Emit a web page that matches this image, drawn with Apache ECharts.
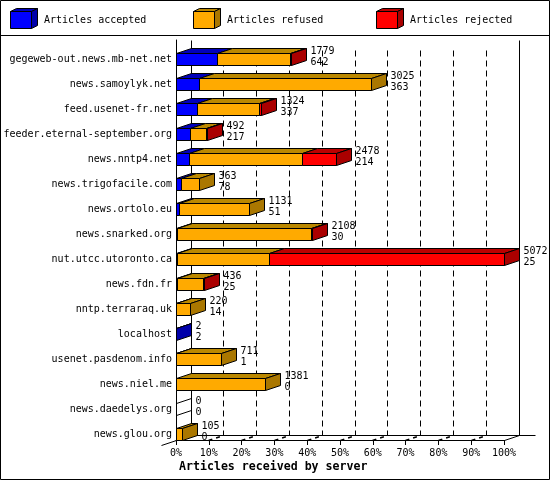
<!DOCTYPE html>
<html><head><meta charset="utf-8">
<style>html,body{margin:0;padding:0;background:#fff}#c{width:550px;height:480px}</style>
<script src="https://cdn.jsdelivr.net/npm/echarts@6/dist/echarts.min.js"></script>
</head><body><div id="c"></div>
<script>
const servers = ["gegeweb-out.news.mb-net.net","news.samoylyk.net","feed.usenet-fr.net","feeder.eternal-september.org","news.nntp4.net","news.trigofacile.com","news.ortolo.eu","news.snarked.org","nut.utcc.utoronto.ca","news.fdn.fr","nntp.terraraq.uk","localhost","usenet.pasdenom.info","news.niel.me","news.daedelys.org","news.glou.org"];
const accepted = [642,363,337,217,214,78,51,30,25,25,14,2,1,0,0,0];
const refused  = [1129,2662,952,260,1746,285,1080,2068,1428,405,206,0,710,1381,0,105];
const rejected = [8,0,35,15,518,0,0,10,3619,6,0,0,0,0,0,0];
const seriesNames = ["Articles accepted","Articles refused","Articles rejected"];
const tickPercents = [0,10,20,30,40,50,60,70,80,90,100];

const FONT = '"DejaVu Sans Mono"';
const totals = servers.map((_,i)=>accepted[i]+refused[i]+rejected[i]);
const maxTotal = Math.max(...totals);
const pct = v => v/maxTotal*100;
const DX=15, DY=-5, BAR=12;
const palette = [
  {front:'#0000ff',top:'#0000bb',side:'#0000aa'},
  {front:'#ffaa00',top:'#bb8800',side:'#aa7700'},
  {front:'#ff0000',top:'#bb0000',side:'#aa0000'}
];
const stroke = {stroke:'#000',lineWidth:1};
function poly(points,fill,z2){
  return {type:'polygon',shape:{points},style:{fill,...stroke},z2:z2||0};
}
function snap(v){return Math.round(v)+0.5;}
function snapX(v){return Math.floor(v+0.01)+0.5;}
function segmentRender(s,values){
  return function(params,api){
    const i=params.dataIndex;
    const start=api.value(0), end=api.value(1);
    const cy=api.coord([0,i])[1];
    const y0=snap(cy+0.5), y1=y0+BAR;
    const x0=snapX(api.coord([start,i])[0]), x1=snapX(api.coord([end,i])[0]);
    const kids=[];
    const last = s===2 ? values[i]>0 : (s===1 ? (rejected[i]===0 && values[i]>0) : (rejected[i]===0&&refused[i]===0&&values[i]>0));
    const c=palette[s];
    if(values[i]>0){
      kids.push(poly([[x0,y0],[x1,y0],[x1+DX,y0+DY],[x0+DX,y0+DY]],c.top,1));
      if(last) kids.push(poly([[x1,y0],[x1+DX,y0+DY],[x1+DX,y1+DY],[x1,y1]],c.side,1));
      kids.push(poly([[x0,y0],[x1,y0],[x1,y1],[x0,y1]],c.front,2));
    } else if(s===0 && totals[i]===0){
      kids.push({type:'polyline',shape:{points:[[x0,y0],[x0+DX,y0+DY]]},style:{...stroke,fill:null}});
      kids.push({type:'polyline',shape:{points:[[x0,y1],[x0+DX,y1+DY]]},style:{...stroke,fill:null}});
    }
    return {type:'group',children:kids};
  };
}
function segData(s){
  return servers.map((_,i)=>{
    const a=pct(accepted[i]), r=pct(refused[i]), x=pct(rejected[i]);
    return s===0?[0,a]:s===1?[a,a+r]:[a+r,a+r+x];
  });
}
function labelRender(params,api){
  const i=params.dataIndex;
  const cy=api.coord([0,i])[1];
  const y0=snap(cy+0.5);
  const x=snapX(api.coord([pct(totals[i]),i])[0])+DX+4;
  const st={font:'10px '+FONT,fill:'#000',textVerticalAlign:'middle'};
  return {type:'group',z2:5,children:[
    {type:'text',style:{text:String(totals[i]),x,y:y0-2.5,...st}},
    {type:'text',style:{text:String(accepted[i]),x,y:y0+8.5,...st}}
  ]};
}
function wallRender(params,api){
  const p=api.value(0);
  const top=api.coord([p,0]), x=snapX(top[0])+DX;
  const yTop=api.coord([0,0])[1]-12.5, yBot=api.coord([0,servers.length-1])[1]+12.5;
  const kids=[];
  const diag={...stroke,fill:null};
  if(p===0){
    kids.push({type:'line',shape:{x1:x,y1:snap(yTop),x2:x,y2:snap(yBot)+DY},style:diag});
    kids.push({type:'line',shape:{x1:x,y1:snap(yBot)+DY,x2:x+344,y2:snap(yBot)+DY},style:diag});
    kids.push({type:'line',shape:{x1:x-30,y1:snap(yBot)-DY,x2:x,y2:snap(yBot)+DY},style:diag});
  } else if(p===100){
    kids.push({type:'line',shape:{x1:x,y1:snap(yTop),x2:x,y2:snap(yBot)+DY},style:diag});
    kids.push({type:'line',shape:{x1:x-DX,y1:snap(yBot),x2:x,y2:snap(yBot)+DY},style:diag});
  } else {
    kids.push({type:'line',shape:{x1:x,y1:snap(yTop)+10,x2:x,y2:snap(yBot)+DY},style:{...stroke,lineDash:[6,4],fill:null}});
    kids.push({type:'line',shape:{x1:x-DX,y1:snap(yBot),x2:x,y2:snap(yBot)+DY},style:{...stroke,lineDash:[4,4],lineWidth:1.5,fill:null}});
  }
  return {type:'group',children:kids};
}
function legendBox(x,y,c){
  const w=21,h=17,dx=6,dy=-3;
  return [
    {type:'polygon',shape:{points:[[x,y],[x+w,y],[x+w+dx,y+dy],[x+dx,y+dy]]},style:{fill:c.top,...stroke}},
    {type:'polygon',shape:{points:[[x+w,y],[x+w+dx,y+dy],[x+w+dx,y+h+dy],[x+w,y+h]]},style:{fill:c.side,...stroke}},
    {type:'polygon',shape:{points:[[x,y],[x+w,y],[x+w,y+h],[x,y+h]]},style:{fill:c.front,...stroke}}
  ];
}
const legendX=[10.5,193.5,376.5], legendTextX=[44,227,410];
const graphics=[
  {type:'rect',shape:{x:0.5,y:0.5,width:549,height:479},style:{fill:null,...stroke},silent:true},
  {type:'line',shape:{x1:0,y1:35.5,x2:550,y2:35.5},style:{...stroke}}
];
seriesNames.forEach((n,s)=>{
  legendBox(legendX[s],11.5,palette[s]).forEach(g=>graphics.push(g));
  graphics.push({type:'text',x:legendTextX[s],y:20.5,style:{text:n,font:'10px '+FONT,fill:'#000',textVerticalAlign:'middle'}});
});
const chart=echarts.init(document.getElementById('c'),null,{renderer:'canvas',width:550,height:480});
chart.setOption({
  animation:false,
  backgroundColor:'#fff',
  graphic:graphics,
  title:{text:'Articles received by server',left:179,top:461,padding:0,textStyle:{fontFamily:FONT,fontSize:11.6,fontWeight:'bold',color:'#000'}},
  grid:{left:176,right:46,top:40,bottom:40,containLabel:false},
  xAxis:{type:'value',min:0,max:100,interval:10,
    axisLine:{show:true,lineStyle:{color:'#000',width:1}},
    axisTick:{show:true,length:5,lineStyle:{color:'#000'}},
    splitLine:{show:false},
    axisLabel:{formatter:'{value}%',fontFamily:FONT,fontSize:10,color:'#000',margin:8,showMinLabel:true,showMaxLabel:true}},
  yAxis:{type:'category',inverse:true,data:servers,
    axisLine:{show:true,onZero:false,lineStyle:{color:'#000',width:1}},
    axisTick:{show:false},splitLine:{show:false},
    axisLabel:{fontFamily:FONT,fontSize:10,color:'#000',margin:4,verticalAlign:'top',lineHeight:13,interval:0}},
  series:[
    {type:'custom',name:'wall',coordinateSystem:'cartesian2d',z:1,silent:true,data:tickPercents.map(p=>[p]),encode:{x:0},renderItem:wallRender,clip:false},
    ...seriesNames.map((n,s)=>({type:'custom',name:n,coordinateSystem:'cartesian2d',z:2+s,data:segData(s),encode:{x:[0,1]},
      renderItem:segmentRender(s,[accepted,refused,rejected][s]),clip:false})),
    {type:'custom',name:'values',coordinateSystem:'cartesian2d',z:6,silent:true,data:servers.map((_,i)=>[pct(totals[i])]),encode:{x:0},renderItem:labelRender,clip:false}
  ]
});
</script></body></html>
